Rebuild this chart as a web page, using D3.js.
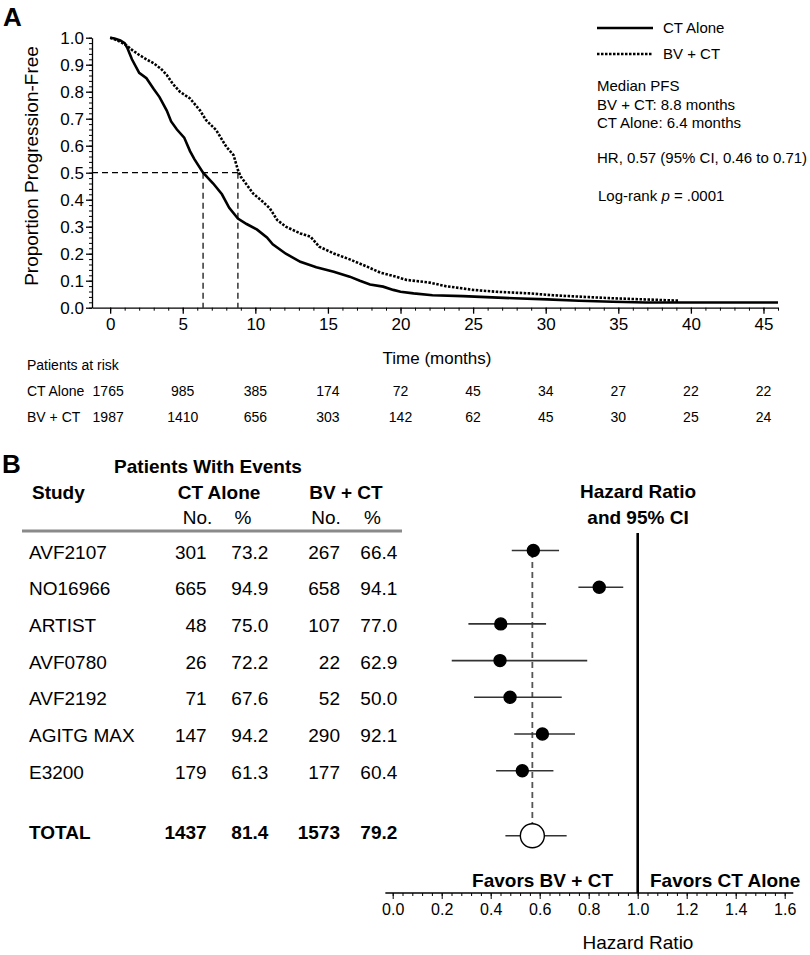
<!DOCTYPE html>
<html>
<head>
<meta charset="utf-8">
<script src="https://cdn.jsdelivr.net/npm/d3@7"></script>
<style>
  body { margin: 0; background: #fff; }
  svg { font-family: "Liberation Sans", Arial, sans-serif; }
</style>
</head>
<body>
<svg id="chart" width="810" height="955"></svg>
<script>
// ---- panel A data ----
var ctMonths = [0, 0.3, 0.7, 1.0, 1.2, 1.5, 2.0, 2.5, 3.0, 3.4, 3.9, 4.2, 4.6, 5.1, 5.5, 5.8, 6.4, 7.1, 7.7, 8.2, 8.8, 9.4, 10.1, 10.8, 11.2, 12.1, 13.1, 14.2, 15.4, 16.5, 17.2, 17.9, 18.8, 19.5, 20.0, 20.9, 22.2, 24.3, 25.5, 27.8, 30.1, 32.3, 34.6, 36.9, 46];
var ctSurv = [1.0, 0.997, 0.99, 0.98, 0.96, 0.92, 0.87, 0.85, 0.81, 0.78, 0.73, 0.69, 0.66, 0.63, 0.58, 0.55, 0.50, 0.46, 0.42, 0.37, 0.33, 0.31, 0.29, 0.26, 0.235, 0.20, 0.17, 0.15, 0.133, 0.115, 0.10, 0.086, 0.078, 0.066, 0.059, 0.053, 0.046, 0.043, 0.04, 0.035, 0.031, 0.026, 0.022, 0.019, 0.019];
var bvMonths = [0, 0.5, 1.1, 1.5, 2.0, 2.5, 3.0, 3.5, 3.9, 4.3, 4.8, 5.5, 6.2, 6.6, 7.3, 8.0, 8.5, 8.8, 9.0, 9.85, 10.5, 11.0, 11.5, 12.1, 13.1, 13.8, 14.4, 15.4, 16.5, 17.7, 18.6, 19.7, 20.4, 22.0, 23.1, 25.0, 26.6, 28.9, 30.5, 32.3, 34.6, 39.2];
var bvSurv = [1.0, 0.99, 0.973, 0.955, 0.936, 0.92, 0.905, 0.885, 0.862, 0.83, 0.80, 0.775, 0.73, 0.695, 0.658, 0.596, 0.565, 0.51, 0.485, 0.423, 0.393, 0.368, 0.325, 0.30, 0.275, 0.263, 0.226, 0.201, 0.179, 0.152, 0.13, 0.115, 0.103, 0.093, 0.08, 0.066, 0.059, 0.053, 0.046, 0.041, 0.035, 0.026];
var medians = [6.4, 8.8];
var riskTimes = [0, 5, 10, 15, 20, 25, 30, 35, 40, 45];
var riskCT = [1765, 985, 385, 174, 72, 45, 34, 27, 22, 22];
var riskBV = [1987, 1410, 656, 303, 142, 62, 45, 30, 25, 24];

// ---- panel B data ----
var studies = ["AVF2107", "NO16966", "ARTIST", "AVF0780", "AVF2192", "AGITG MAX", "E3200", "TOTAL"];
var ctNo = [301, 665, 48, 26, 71, 147, 179, 1437];
var ctPct = ["73.2", "94.9", "75.0", "72.2", "67.6", "94.2", "61.3", "81.4"];
var bvNo = [267, 658, 107, 22, 52, 290, 177, 1573];
var bvPct = ["66.4", "94.1", "77.0", "62.9", "50.0", "92.1", "60.4", "79.2"];
var hr = [0.574, 0.843, 0.441, 0.438, 0.479, 0.611, 0.529, 0.57];
var hrLow = [0.486, 0.758, 0.309, 0.241, 0.332, 0.496, 0.422, 0.46];
var hrHigh = [0.679, 0.941, 0.626, 0.794, 0.690, 0.744, 0.656, 0.71];
var rowIndex = [0, 1, 2, 3, 4, 5, 6, 7.65];

var svg = d3.select("#chart");

// =================== PANEL A ===================
var x = d3.scaleLinear().domain([-1.25, 46]).range([92, 778]);
var y = d3.scaleLinear().domain([0, 1]).range([307.7, 37.7]);

svg.append("text").attr("x", 3).attr("y", 26).attr("font-size", 26).attr("font-weight", "bold").text("A");

// minor ticks
svg.append("g").attr("transform", "translate(92,0)")
  .call(d3.axisLeft(y).tickValues(d3.range(0, 1.001, 0.02)).tickSize(3).tickFormat(""))
  .call(function (g) { g.select(".domain").remove(); });
svg.append("g").attr("transform", "translate(0,307.7)")
  .call(d3.axisBottom(x).tickValues(d3.range(0, 47, 1)).tickSize(3).tickFormat(""))
  .call(function (g) { g.select(".domain").remove(); });

var yAxis = svg.append("g").attr("transform", "translate(92,0)")
  .call(d3.axisLeft(y).tickValues(d3.range(0, 11).map(function (d) { return d / 10; }))
    .tickFormat(d3.format(".1f")).tickSize(6).tickSizeOuter(0));
yAxis.selectAll("text").attr("font-size", 17).attr("font-family", "Liberation Sans").attr("x", -8);
yAxis.selectAll("path, line").attr("stroke-width", 1.3);

var xAxis = svg.append("g").attr("transform", "translate(0,307.7)")
  .call(d3.axisBottom(x).tickValues(riskTimes).tickSize(6).tickSizeOuter(0));
xAxis.selectAll("text").attr("font-size", 17).attr("font-family", "Liberation Sans").attr("y", 10);
xAxis.selectAll("path, line").attr("stroke-width", 1.3);

svg.append("text")
  .attr("transform", "translate(31,166) rotate(-90)")
  .attr("text-anchor", "middle").attr("dy", "0.35em").attr("font-size", 19)
  .text("Proportion Progression-Free");

// median reference lines
svg.append("line")
  .attr("x1", 92).attr("x2", x(medians[1])).attr("y1", y(0.5)).attr("y2", y(0.5))
  .attr("stroke", "#000").attr("stroke-width", 1.2).attr("stroke-dasharray", "6,4");
svg.append("g").selectAll("line").data(medians).enter().append("line")
  .attr("x1", function (d) { return x(d); }).attr("x2", function (d) { return x(d); })
  .attr("y1", y(0.5)).attr("y2", y(0))
  .attr("stroke", "#000").attr("stroke-width", 1.2).attr("stroke-dasharray", "6,4");

var line = d3.line()
  .x(function (d) { return x(d[0]); })
  .y(function (d) { return y(d[1]); });

svg.append("path")
  .datum(d3.zip(bvMonths, bvSurv))
  .attr("d", line).attr("fill", "none").attr("stroke", "#000")
  .attr("stroke-width", 2.6).attr("stroke-dasharray", "2.5,1.5");
svg.append("path")
  .datum(d3.zip(ctMonths, ctSurv))
  .attr("d", line).attr("fill", "none").attr("stroke", "#000")
  .attr("stroke-width", 2.6);

// legend + notes
svg.append("line").attr("x1", 597).attr("x2", 653).attr("y1", 28).attr("y2", 28)
  .attr("stroke", "#000").attr("stroke-width", 2.6);
svg.append("line").attr("x1", 597).attr("x2", 653).attr("y1", 54).attr("y2", 54)
  .attr("stroke", "#000").attr("stroke-width", 2.6).attr("stroke-dasharray", "2.5,1.5");
svg.append("text").attr("x", 663).attr("y", 28).attr("dy", "0.35em").attr("font-size", 15).text("CT Alone");
svg.append("text").attr("x", 663).attr("y", 54).attr("dy", "0.35em").attr("font-size", 15).text("BV + CT");

var notes = [
  ["Median PFS", 86],
  ["BV + CT: 8.8 months", 104.5],
  ["CT Alone: 6.4 months", 122.5],
  ["HR, 0.57 (95% CI, 0.46 to 0.71)", 158]
];
svg.append("g").selectAll("text").data(notes).enter().append("text")
  .attr("x", 597).attr("y", function (d) { return d[1]; }).attr("dy", "0.35em")
  .attr("font-size", 15).text(function (d) { return d[0]; });
var lr = svg.append("text").attr("x", 598).attr("y", 196).attr("dy", "0.35em").attr("font-size", 15);
lr.append("tspan").text("Log-rank ");
lr.append("tspan").attr("font-style", "italic").text("p");
lr.append("tspan").text(" =  .0001");

svg.append("text").attr("x", 437).attr("y", 358).attr("dy", "0.35em")
  .attr("text-anchor", "middle").attr("font-size", 17).text("Time (months)");

// patients at risk
svg.append("text").attr("x", 27).attr("y", 365).attr("dy", "0.35em").attr("font-size", 14).text("Patients at risk");
var riskRows = [["CT Alone", riskCT, 391], ["BV + CT", riskBV, 416.7]];
riskRows.forEach(function (r) {
  svg.append("text").attr("x", 27).attr("y", r[2]).attr("dy", "0.35em").attr("font-size", 14).text(r[0]);
  svg.append("g").selectAll("text").data(r[1]).enter().append("text")
    .attr("x", function (d, i) { return x(riskTimes[i]) - (i === 0 ? 2 : 0); })
    .attr("y", r[2]).attr("dy", "0.35em").attr("text-anchor", "middle")
    .attr("font-size", 14).text(function (d) { return d; });
});

// =================== PANEL B ===================
var h = d3.scaleLinear().domain([0, 1.6]).range([392.7, 784.7]);
var rowY = d3.scaleLinear().domain([0, 1]).range([552, 588.7]);

svg.append("text").attr("x", 2).attr("y", 464).attr("dy", "0.35em").attr("font-size", 26).attr("font-weight", "bold").text("B");
svg.append("text").attr("x", 208).attr("y", 466).attr("dy", "0.35em").attr("text-anchor", "middle")
  .attr("font-size", 19).attr("font-weight", "bold").text("Patients With Events");

var heads = [["Study", 32, "start"], ["CT Alone", 219, "middle"], ["BV + CT", 346, "middle"]];
svg.append("g").selectAll("text").data(heads).enter().append("text")
  .attr("x", function (d) { return d[1]; }).attr("y", 492).attr("dy", "0.35em")
  .attr("text-anchor", function (d) { return d[2]; })
  .attr("font-size", 19).attr("font-weight", "bold").text(function (d) { return d[0]; });
var sub = [["No.", 197.5], ["%", 243], ["No.", 326], ["%", 372.5]];
svg.append("g").selectAll("text").data(sub).enter().append("text")
  .attr("x", function (d) { return d[1]; }).attr("y", 517).attr("dy", "0.35em")
  .attr("text-anchor", "middle").attr("font-size", 19).text(function (d) { return d[0]; });

svg.append("line").attr("x1", 22).attr("x2", 402).attr("y1", 531).attr("y2", 531)
  .attr("stroke", "#8a8a8a").attr("stroke-width", 3);

var cols = [[ctNo, 206.7], [ctPct, 268.3], [bvNo, 340], [bvPct, 397.3]];
studies.forEach(function (s, i) {
  var yy = rowY(rowIndex[i]);
  var bold = s === "TOTAL" ? "bold" : "normal";
  svg.append("text").attr("x", 29).attr("y", yy).attr("dy", "0.35em")
    .attr("font-size", 19).attr("font-weight", bold).text(s);
  cols.forEach(function (c) {
    svg.append("text").attr("x", c[1]).attr("y", yy).attr("dy", "0.35em")
      .attr("text-anchor", "end").attr("font-size", 19).attr("font-weight", bold).text(c[0][i]);
  });
});

// forest plot
svg.append("text").attr("x", 638).attr("y", 491.7).attr("dy", "0.35em").attr("text-anchor", "middle")
  .attr("font-size", 19).attr("font-weight", "bold").text("Hazard Ratio");
svg.append("text").attr("x", 638).attr("y", 517.3).attr("dy", "0.35em").attr("text-anchor", "middle")
  .attr("font-size", 19).attr("font-weight", "bold").text("and 95% CI");

var nS = studies.length - 1;
var totalY = rowY(rowIndex[nS]) + 3;

svg.append("line")
  .attr("x1", h(hr[nS])).attr("x2", h(hr[nS]))
  .attr("y1", rowY(0)).attr("y2", totalY - 12)
  .attr("stroke", "#555").attr("stroke-width", 1.8).attr("stroke-dasharray", "6,4");

svg.append("line").attr("x1", h(1)).attr("x2", h(1)).attr("y1", 533).attr("y2", 893)
  .attr("stroke", "#000").attr("stroke-width", 2.6);

var fg = svg.append("g");
studies.forEach(function (s, i) {
  var yy = i === nS ? totalY : rowY(rowIndex[i]) - 1.5;
  fg.append("line").attr("x1", h(hrLow[i])).attr("x2", h(hrHigh[i])).attr("y1", yy).attr("y2", yy)
    .attr("stroke", "#333").attr("stroke-width", 1.6);
  fg.append("circle").attr("cx", h(hr[i])).attr("cy", yy)
    .attr("r", i === nS ? 12 : 6)
    .attr("fill", i === nS ? "#fff" : "#000")
    .attr("stroke", "#000").attr("stroke-width", 1.4);
});

svg.append("text").attr("x", 613).attr("y", 880).attr("dy", "0.35em").attr("text-anchor", "end")
  .attr("font-size", 19).attr("font-weight", "bold").text("Favors BV + CT");
svg.append("text").attr("x", 650).attr("y", 880).attr("dy", "0.35em")
  .attr("font-size", 19).attr("font-weight", "bold").text("Favors CT Alone");

svg.append("g").attr("transform", "translate(0,893)")
  .call(d3.axisBottom(h).tickValues(d3.range(0, 1.64, 0.04)).tickSize(3).tickFormat(""))
  .call(function (g) { g.select(".domain").remove(); });
var hAxis = svg.append("g").attr("transform", "translate(0,893)")
  .call(d3.axisBottom(h).tickValues(d3.range(0, 9).map(function (d) { return d * 0.2; }))
    .tickFormat(d3.format(".1f")).tickSize(6).tickSizeOuter(0));
hAxis.select(".domain").remove();
hAxis.selectAll("text").attr("font-size", 16).attr("font-family", "Liberation Sans").attr("y", 11);
svg.append("line").attr("x1", h(-0.03)).attr("x2", h(1.635)).attr("y1", 893).attr("y2", 893)
  .attr("stroke", "#000").attr("stroke-width", 1.3);

svg.append("text").attr("x", 638).attr("y", 942).attr("dy", "0.35em").attr("text-anchor", "middle")
  .attr("font-size", 19).text("Hazard Ratio");
</script>
</body>
</html>
